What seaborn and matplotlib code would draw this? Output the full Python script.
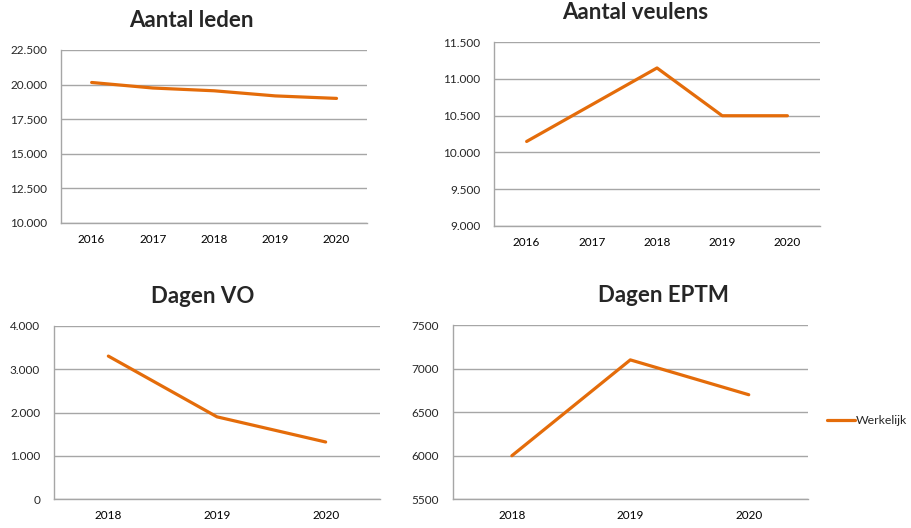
import seaborn as sns
import matplotlib
matplotlib.use("Agg")
import matplotlib.pyplot as plt
from matplotlib.ticker import FuncFormatter, FixedLocator
from matplotlib.lines import Line2D

# data
years_long = ["2016", "2017", "2018", "2019", "2020"]
years_short = ["2018", "2019", "2020"]
leden = [20150, 19750, 19550, 19180, 19000]
veulens = [10150, 10650, 11150, 10500, 10500]
dagen_vo = [3300, 1900, 1320]
dagen_eptm = [6000, 7100, 6700]

ORANGE = "#E46C0A"
GRID = "#A6A6A6"

sns.set_style("white")
plt.rcParams['font.family'] = ['Lato', 'DejaVu Sans']


def dots(v, pos):
	return f"{v:,.0f}".replace(",", ".")


def draw_panel(fig, rect, title, title_xy, cats, vals, ymin, ymax, ystep, dotted=True):
	ax = fig.add_axes(rect)
	sns.lineplot(x=cats, y=vals, ax=ax, color=ORANGE, linewidth=2.3, sort=False, legend=False)
	n = len(cats)
	ax.set_xlim(-0.5, n - 0.5)
	ax.set_ylim(ymin, ymax)
	ax.yaxis.set_major_locator(FixedLocator(list(range(ymin, ymax + 1, ystep))))
	if dotted:
		ax.yaxis.set_major_formatter(FuncFormatter(dots))
	ax.xaxis.set_minor_locator(FixedLocator([i - 0.5 for i in range(n + 1)]))
	ax.tick_params(axis="x", which="major", length=0, labelsize=8.5, pad=8, colors="black")
	ax.tick_params(axis="x", which="minor", length=3, width=1, color=GRID, direction="out")
	ax.tick_params(axis="y", which="major", length=4, width=1, color=GRID, labelsize=8.5, pad=6)
	ax.grid(axis="y", color=GRID, linewidth=1)
	ax.set_axisbelow(True)
	for s in ["top", "right"]:
		ax.spines[s].set_visible(False)
	for s in ["left", "bottom"]:
		ax.spines[s].set_color(GRID)
		ax.spines[s].set_linewidth(1)
	ax.set_xlabel("")
	ax.set_ylabel("")
	fig.text(title_xy[0] / 911, 1 - title_xy[1] / 528, title, fontsize=16, fontweight="bold",
			 ha="center", va="baseline")
	return ax


fig = plt.figure(figsize=(9.11, 5.28), dpi=100)

draw_panel(fig, [0.067, 0.5777, 0.336, 0.3277], "Aantal leden", (191, 26.7),
		   years_long, leden, 10000, 22500, 2500)
draw_panel(fig, [0.5423, 0.572, 0.3578, 0.348], "Aantal veulens", (635, 19),
		   years_long, veulens, 9000, 11500, 500)
draw_panel(fig, [0.0593, 0.0544, 0.3578, 0.3287], "Dagen VO", (203, 302.7),
		   years_short, dagen_vo, 0, 4000, 1000)
draw_panel(fig, [0.4969, 0.0544, 0.39, 0.330], "Dagen EPTM", (663, 302),
		   years_short, dagen_eptm, 5500, 7500, 500, dotted=False)

handle = Line2D([], [], color=ORANGE, linewidth=2.3)
fig.legend([handle], ["Werkelijk"], loc="center right", bbox_to_anchor=(907 / 911, 1 - 421 / 528),
		   frameon=False, fontsize=8.8, handlelength=2.3, handletextpad=0.05, borderaxespad=0, borderpad=0)

fig.savefig("out.png", dpi=100)
